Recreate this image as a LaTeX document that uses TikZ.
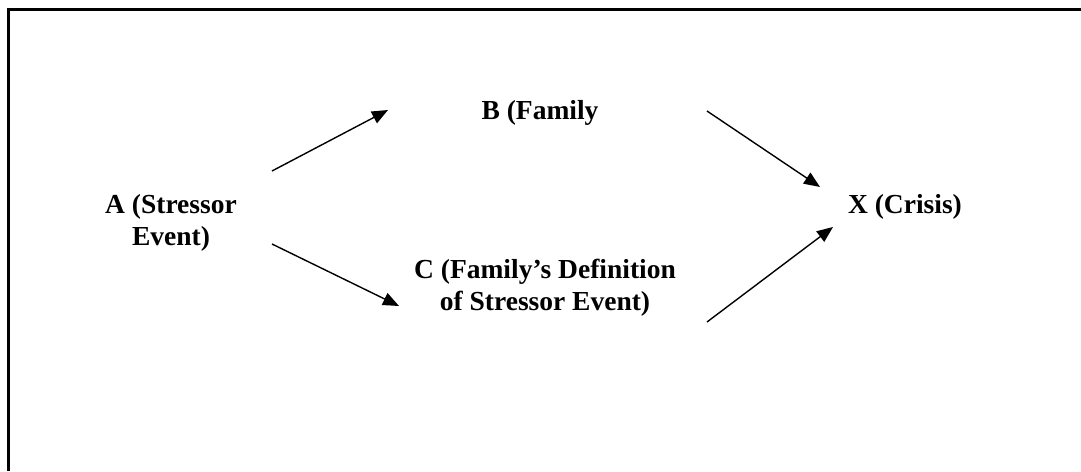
\documentclass[tikz,border=0pt]{standalone}
\usepackage{fontspec}
\setmainfont{Liberation Serif}
\usetikzlibrary{arrows.meta}
\tikzset{
  lbl/.style={font=\fontsize{27.5}{32}\selectfont\bfseries, align=center, inner sep=0pt, anchor=base},
  conn/.style={line width=1.4pt, -{Triangle[length=16pt,width=13pt]}},
  frame/.style={line width=3pt, black}
}
\begin{document}
\begin{tikzpicture}[x=1pt,y=-1pt]
\useasboundingbox (0,0) rectangle (1081,471);
\fill[white] (0,0) rectangle (1081,471);
\draw[frame] (1081,9) -- (8,9) -- (8,471);
\node[lbl] (A) at (171,245) {A (Stressor\\Event)};
\node[lbl] (B) at (540,119) {B (Family};
\node[lbl] (C) at (545,310) {C (Family’s Definition\\of Stressor Event)};
\node[lbl] (X) at (905,213) {X (Crisis)};
\coordinate (ab1) at (272,171);
\coordinate (ab2) at (388,110);
\coordinate (ac1) at (272,244);
\coordinate (ac2) at (399,306);
\coordinate (bx1) at (707,111);
\coordinate (bx2) at (820,187);
\coordinate (cx1) at (707,322);
\coordinate (cx2) at (833,227);
\draw[conn] (ab1) -- (ab2);
\draw[conn] (ac1) -- (ac2);
\draw[conn] (bx1) -- (bx2);
\draw[conn] (cx1) -- (cx2);
\end{tikzpicture}
\end{document}
